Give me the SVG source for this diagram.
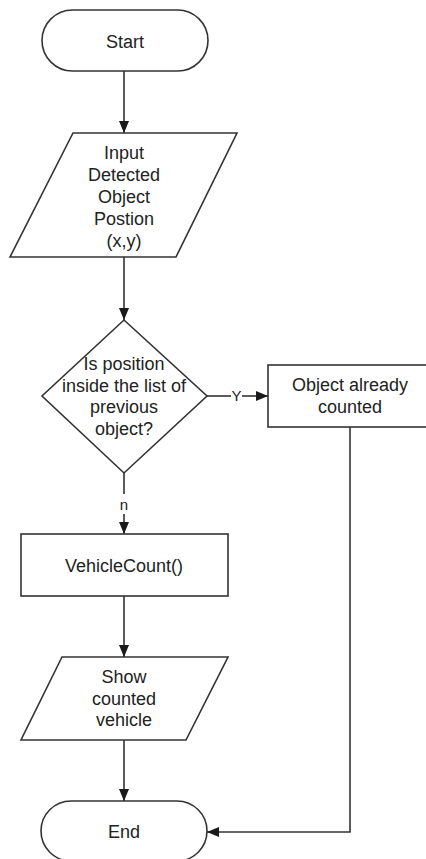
<svg xmlns="http://www.w3.org/2000/svg" width="426" height="859" viewBox="0 0 426 859">
<defs>
<marker id="arr" viewBox="0 0 12 10" refX="12" refY="5" markerWidth="12" markerHeight="10" markerUnits="userSpaceOnUse" orient="auto">
<path d="M0,0 L12,5 L0,10 Z" fill="#1a1a1a"/>
</marker>
<style>
.sh{fill:#fff;stroke:#333;stroke-width:1.6}
.ln{fill:none;stroke:#333;stroke-width:1.6}
.t{font-family:"Liberation Sans",Arial,sans-serif;font-size:18px;fill:#222;text-anchor:middle}
.s{font-family:"Liberation Sans",Arial,sans-serif;font-size:15px;fill:#222;text-anchor:middle}
</style>
</defs>
<rect width="426" height="859" fill="#fff"/>
<g id="connectors">
<path class="ln" d="M124,71 V133" marker-end="url(#arr)"/>
<path class="ln" d="M124,257 V320" marker-end="url(#arr)"/>
<path class="ln" d="M207,396 H231"/>
<path class="ln" d="M242,396 H268" marker-end="url(#arr)"/>
<text class="s" x="236.5" y="401">Y</text>
<path class="ln" d="M124,473 V494"/>
<path class="ln" d="M124,514 V534" marker-end="url(#arr)"/>
<text class="s" x="124" y="510">n</text>
<path class="ln" d="M124,596 V657" marker-end="url(#arr)"/>
<path class="ln" d="M124,740 V801" marker-end="url(#arr)"/>
<path class="ln" d="M350,427 V832 H207" marker-end="url(#arr)"/>
</g>
<g id="start">
<rect class="sh" x="42" y="10" width="166" height="61" rx="30.5"/>
<text class="t" x="125" y="48">Start</text>
</g>
<g id="input">
<polygon class="sh" points="73,133 237,133 176,257 10,257"/>
<text class="t" x="124" y="159">Input</text>
<text class="t" x="124" y="181">Detected</text>
<text class="t" x="124" y="203">Object</text>
<text class="t" x="124" y="225">Postion</text>
<text class="t" x="124" y="247">(x,y)</text>
</g>
<g id="decision">
<polygon class="sh" points="124,320 207,396 124,473 42,396"/>
<text class="t" x="124" y="370">Is position</text>
<text class="t" x="124" y="392">inside the list of</text>
<text class="t" x="124" y="413">previous</text>
<text class="t" x="124" y="435">object?</text>
</g>
<g id="counted">
<rect class="sh" x="268" y="365" width="164" height="62"/>
<text class="t" x="350" y="391">Object already</text>
<text class="t" x="350" y="413">counted</text>
</g>
<g id="vehiclecount">
<rect class="sh" x="21" y="534" width="207" height="62"/>
<text class="t" x="124" y="572">VehicleCount()</text>
</g>
<g id="show">
<polygon class="sh" points="62,657 228,657 186,740 21,740"/>
<text class="t" x="124" y="683">Show</text>
<text class="t" x="124" y="705">counted</text>
<text class="t" x="124" y="726">vehicle</text>
</g>
<g id="end">
<rect class="sh" x="41" y="801" width="166" height="60" rx="30"/>
<text class="t" x="124" y="838">End</text>
</g>
</svg>
